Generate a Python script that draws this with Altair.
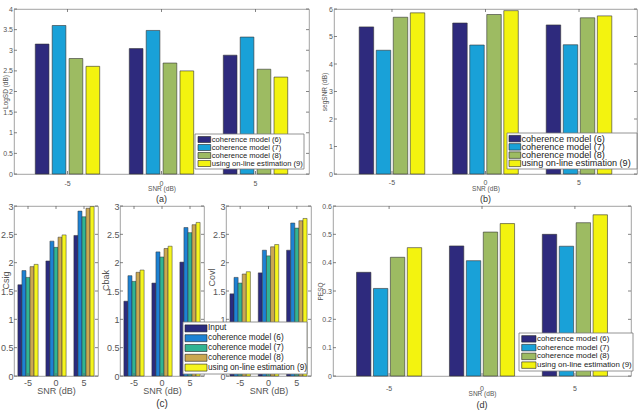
import altair as alt
import pandas as pd

FONT = "Liberation Sans"

snr_levels = ["-5", "0", "5"]

series4 = ["coherence model (6)", "coherence model (7)", "coherence model (8)",
           "using on-line estimation (9)"]
colors4 = ["#2e2a7d", "#19a1d8", "#9dbb62", "#f3f30f"]

series5 = ["Input", "coherence model (6)", "coherence model (7)", "coherence model (8)",
           "using on-line estimation (9)"]
colors5 = ["#2a2b7f", "#1d82d4", "#31b493", "#cba850", "#f5f51d"]

# (a) LogSD (dB)
logsd_m6 = [3.15, 3.04, 2.88]
logsd_m7 = [3.60, 3.48, 3.32]
logsd_m8 = [2.80, 2.69, 2.54]
logsd_ol = [2.61, 2.50, 2.35]

# (b) segSNR (dB)
segsnr_m6 = [5.35, 5.49, 5.42]
segsnr_m7 = [4.50, 4.69, 4.70]
segsnr_m8 = [5.70, 5.80, 5.68]
segsnr_ol = [5.86, 5.94, 5.75]

# (c) Csig / Cbak / Covl
csig_in = [1.61, 2.03, 2.48]
csig_m6 = [1.86, 2.38, 2.91]
csig_m7 = [1.74, 2.27, 2.81]
csig_m8 = [1.93, 2.45, 2.96]
csig_ol = [1.97, 2.49, 2.99]

cbak_in = [1.32, 1.64, 2.01]
cbak_m6 = [1.77, 2.19, 2.62]
cbak_m7 = [1.67, 2.10, 2.53]
cbak_m8 = [1.83, 2.25, 2.67]
cbak_ol = [1.87, 2.29, 2.71]

covl_in = [1.45, 1.82, 2.22]
covl_m6 = [1.74, 2.22, 2.70]
covl_m7 = [1.64, 2.12, 2.61]
covl_m8 = [1.80, 2.28, 2.74]
covl_ol = [1.84, 2.32, 2.78]

# (d) PESQ
pesq_m6 = [0.366, 0.459, 0.500]
pesq_m7 = [0.309, 0.407, 0.458]
pesq_m8 = [0.419, 0.508, 0.541]
pesq_ol = [0.453, 0.538, 0.569]

ticks_a = [0, 0.5, 1, 1.5, 2, 2.5, 3, 3.5, 4]
ticks_b = [0, 1, 2, 3, 4, 5, 6]
ticks_c = [0, 0.5, 1, 1.5, 2, 2.5, 3]
ticks_d = [0, 0.1, 0.2, 0.3, 0.4, 0.5, 0.6]


def long_df(series, arrays):
    rows = []
    for s, arr in zip(series, arrays):
        for snr, v in zip(snr_levels, arr):
            rows.append({"snr": snr, "series": s, "value": v})
    return pd.DataFrame(rows)


def legend_layers(series, cscale, lx, ly, lw, lh, fs, sx, sw, sh, tx, pad):
    n = len(series)
    rowh = (lh - 2 * pad) / n
    f = sh / rowh
    ldf = pd.DataFrame({
        "series": series,
        "r0": [i + (1 - f) / 2 for i in range(n)],
        "r1": [i + (1 + f) / 2 for i in range(n)],
        "rc": [i + 0.5 for i in range(n)],
    })
    ysc = alt.Scale(domain=[0, n], range=[ly + pad, ly + lh - pad], nice=False, zero=False)
    box = alt.Chart(pd.DataFrame({"b": [0]})).mark_rect(
        fill="white", stroke="#7a7a7a", strokeWidth=0.8).encode(
        x=alt.value(lx), x2=alt.value(lx + lw), y=alt.value(ly), y2=alt.value(ly + lh))
    sw_ = alt.Chart(ldf).mark_rect(stroke="#222", strokeWidth=0.6).encode(
        y=alt.Y("r0:Q", scale=ysc, axis=None), y2="r1:Q",
        x=alt.value(lx + sx), x2=alt.value(lx + sx + sw),
        color=alt.Color("series:N", scale=cscale, legend=None))
    tx_ = alt.Chart(ldf).mark_text(align="left", baseline="middle", font=FONT,
                                   fontSize=fs, color="#222").encode(
        y=alt.Y("rc:Q", scale=ysc, axis=None), x=alt.value(lx + tx), text="series:N")
    return [box, sw_, tx_]


def panel(series, colors, arrays, ytitle, ydom, yticks, w, h, xpo, opi, opo,
          tick_fs, ylab_pad, ytitle_fs, ytitle_x, ytitle_dy, xlab_pad, xtitle_y, xtitle_fs,
          legend, caption, cap_fs, cap_dy, stroke_w):
    df = long_df(series, arrays)
    xs = alt.Scale(domain=snr_levels, paddingInner=0, paddingOuter=xpo)
    ys = alt.Scale(domain=ydom, nice=False, zero=False)
    cs = alt.Scale(domain=series, range=colors)
    xaxis = alt.Axis(title="SNR (dB)", labelAngle=0, domain=False, ticks=False,
                     labelFontSize=tick_fs, labelFont=FONT, labelColor="#555",
                     labelPadding=xlab_pad, titleFont=FONT, titleFontSize=xtitle_fs,
                     titleColor="#555", titleFontWeight="normal", titleY=xtitle_y,
                     titleBaseline="top")
    yaxis = alt.Axis(title=ytitle, values=yticks, format="~g", domain=False,
                     ticks=False, grid=False, labelFontSize=tick_fs, labelFont=FONT,
                     labelColor="#555", labelPadding=ylab_pad, titleFont=FONT,
                     titleFontSize=ytitle_fs, titleColor="#555",
                     titleFontWeight="normal", titleX=ytitle_x,
                     titleY=h / 2 + ytitle_dy)
    bars = alt.Chart(df).mark_bar(stroke="#333", strokeWidth=stroke_w).encode(
        x=alt.X("snr:N", scale=xs, axis=xaxis),
        xOffset=alt.XOffset("series:N", scale=alt.Scale(domain=series, paddingInner=opi,
                                                        paddingOuter=opo)),
        y=alt.Y("value:Q", scale=ys, axis=yaxis),
        color=alt.Color("series:N", scale=cs, legend=None),
    )
    tl = 3
    ytk = pd.DataFrame({"value": yticks})
    xtk = pd.DataFrame({"snr": snr_levels})
    rule = dict(color="#666", strokeWidth=0.8)
    lt = alt.Chart(ytk).mark_rule(**rule).encode(
        y=alt.Y("value:Q", scale=ys, axis=None), x=alt.value(0), x2=alt.value(tl))
    rt = alt.Chart(ytk).mark_rule(**rule).encode(
        y=alt.Y("value:Q", scale=ys, axis=None), x=alt.value(w - tl), x2=alt.value(w))
    bt = alt.Chart(xtk).mark_rule(**rule).encode(
        x=alt.X("snr:N", scale=xs), y=alt.value(h), y2=alt.value(h - tl))
    tt = alt.Chart(xtk).mark_rule(**rule).encode(
        x=alt.X("snr:N", scale=xs), y=alt.value(0), y2=alt.value(tl))
    layers = [bars, lt, rt, bt, tt]
    if legend:
        layers += legend_layers(series, cs, **legend)
    if caption:
        cap = alt.Chart(pd.DataFrame({"cap": [caption]})).mark_text(
            font=FONT, fontSize=cap_fs, color="#333", baseline="middle").encode(
            text="cap:N", x=alt.value(w / 2), y=alt.value(h + cap_dy))
        layers.append(cap)
    return alt.layer(*layers).resolve_scale(y="independent").properties(width=w, height=h)


HT = 165
HB = 170

pa = panel(series4, colors4, [logsd_m6, logsd_m7, logsd_m8, logsd_ol], "LogSD (dB)",
           [0, 4], ticks_a, 295, HT, 0.069, 0.19, 0.875,
           7, 1.5, 6.5, -6, 0, 5, 11, 6.5,
           dict(lx=181, ly=125, lw=109, lh=35, fs=7.6, sx=3, sw=12.7, sh=6, tx=16.7, pad=1.5),
           "(a)", 9, 24.5, 0.6)
pb = panel(series4, colors4, [segsnr_m6, segsnr_m7, segsnr_m8, segsnr_ol], "segSNR (dB)",
           [0, 6], ticks_b, 303, HT, 0.12, 0.15, 0.82,
           7, 1.5, 6.5, -7, 0, 4, 11, 6.5,
           dict(lx=173, ly=124, lw=130, lh=36, fs=9.1, sx=2, sw=11.7, sh=6.5, tx=14.5, pad=1.5),
           "(b)", 9, 24.5, 0.6)

pc1 = panel(series5, colors5, [csig_in, csig_m6, csig_m7, csig_m8, csig_ol], "Csig",
            [0, 3], ticks_c, 84, HB, 0.0, 0.0, 0.96,
            9, 1, 9, -4, -11, 2.5, 10.5, 9,
            None, None, 10, 28, 0.5)
pc2 = panel(series5, colors5, [cbak_in, cbak_m6, cbak_m7, cbak_m8, cbak_ol], "Cbak",
            [0, 3], ticks_c, 84, HB, 0.0, 0.0, 0.96,
            9, 1, 9, -10, -11, 2.5, 10.5, 9,
            None, "(c)", 10, 28, 0.5)
pc3 = panel(series5, colors5, [covl_in, covl_m6, covl_m7, covl_m8, covl_ol], "Covl",
            [0, 3], ticks_c, 85, HB, 0.0, 0.0, 0.96,
            9, 1, 9, -10, -14, 2.5, 10.5, 9,
            dict(lx=-43, ly=116, lw=124, lh=52, fs=8.25, sx=2, sw=22, sh=7, tx=25, pad=1.5),
            None, 10, 28, 0.5)
pd_ = panel(series4, colors4, [pesq_m6, pesq_m7, pesq_m8, pesq_ol], "PESQ",
            [0, 0.6], ticks_d, 298, HB, 0.104, 0.15, 0.82,
            7, 1.5, 6.5, -10, 0, 8, 14.5, 6.5,
            dict(lx=186, ly=127, lw=114, lh=38, fs=7.9, sx=2.7, sw=14.3, sh=6.5, tx=18, pad=1.5),
            "(d)", 9, 28.5, 0.6)


def indep(c):
    return c.resolve_scale(x="independent", y="independent", color="independent",
                           xOffset="independent")


top = indep(alt.hconcat(pa, pb, spacing=25, bounds="flush"))
bottom = indep(alt.hconcat(pc1, pc2, pc3, pd_, spacing=22, bounds="flush"))
chart = indep(alt.vconcat(top, bottom, spacing=-3)).properties(
    padding={"left": 0, "top": 4, "right": 0, "bottom": 0},
    background="white",
).configure_view(stroke="#8a8a8a", strokeWidth=0.8)

chart.save("out.html", embed_options={"renderer": "svg", "actions": False})
